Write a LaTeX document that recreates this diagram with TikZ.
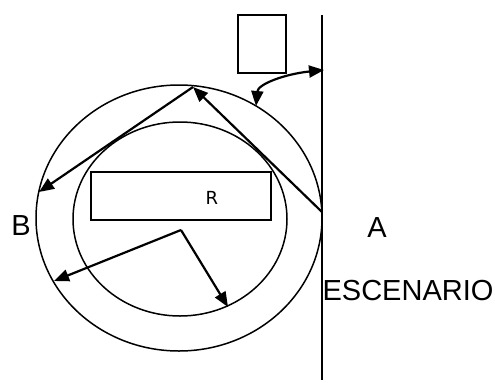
\documentclass[tikz,border=0pt]{standalone}
\usepackage{fontspec}
\setmainfont{Liberation Sans}
\newfontfamily\rfont{DejaVu Sans}
\usetikzlibrary{arrows.meta}
\begin{document}
\begin{tikzpicture}[x=1pt,y=-1pt,
  thinline/.style={line width=1.5pt},
  arrline/.style={line width=2.2pt,-{Triangle[length=15pt,width=12pt]}},
  lbl/.style={inner sep=0pt,font=\fontsize{29}{31}\selectfont}]
\useasboundingbox (0,0) rectangle (495,386);
% stage line
\coordinate (stTop) at (322,15);
\coordinate (stBot) at (322,380);
\draw[thinline] (stTop) -- (stBot);
% ellipses
\draw[thinline] (179,218) ellipse [x radius=143, y radius=133];
\draw[thinline] (180,219) ellipse [x radius=107, y radius=97];
% boxes
\node[draw,thinline,minimum width=48pt,minimum height=58pt,inner sep=0pt] (box) at (262,44) {};
\node[draw,thinline,minimum width=180pt,minimum height=48pt,inner sep=0pt] (rect) at (181,196) {};
\node[inner sep=0pt,font=\rfont\fontsize{18}{20}\selectfont] (R) at (212,198) {R};
% labels
\node[lbl] (B) at (21,226) {B};
\node[lbl] (A) at (377,228) {A};
\node[lbl] (esc) at (408,291) {ESCENARIO};
% points
\coordinate (pA) at (322,212);
\coordinate (pTop) at (193,87);
\coordinate (pB) at (39,192);
\coordinate (pC) at (181,230);
\coordinate (pL) at (54,281);
\coordinate (pR) at (228,307);
\coordinate (cL) at (256,106);
\coordinate (cR) at (324,70);
% arrows
\draw[arrline] (pA) -- (pTop);
\draw[arrline] (pTop) -- (pB);
\draw[arrline] (pC) -- (pL);
\draw[arrline] (pC) -- (pR);
\draw[line width=2.2pt,{Triangle[length=15pt,width=12pt]}-{Triangle[length=15pt,width=12pt]}] (cL) .. controls (258,84) and (285,74) .. (cR);
\end{tikzpicture}
\end{document}
